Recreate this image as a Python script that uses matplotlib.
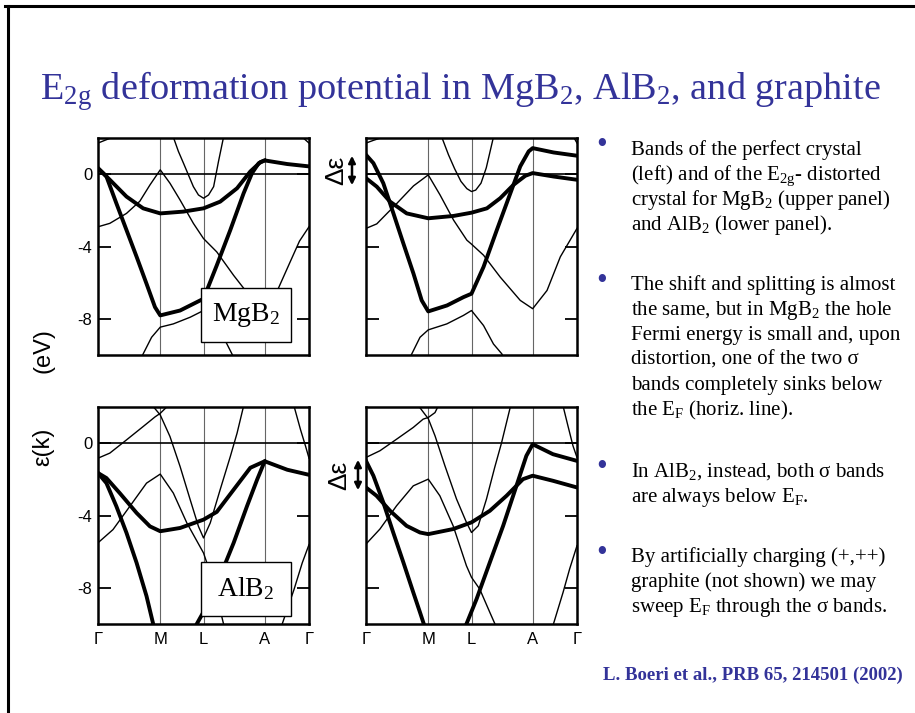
import matplotlib
matplotlib.use('Agg')
import matplotlib.pyplot as plt
from matplotlib.lines import Line2D
from matplotlib.patches import Rectangle, FancyArrowPatch

plt.rcParams['mathtext.fontset'] = 'custom'
plt.rcParams['mathtext.rm'] = 'Liberation Serif'
plt.rcParams['mathtext.it'] = 'Liberation Serif:italic'
plt.rcParams['mathtext.default'] = 'rm'

blue = '#333399'
serif = 'Liberation Serif'
sans = 'Liberation Sans'

# high-symmetry path, fraction of total length
kpts = [0.0, 0.295, 0.5, 0.79, 1.0]
klabels = ['Γ', 'M', 'L', 'A', 'Γ']
eticks = [0, -4, -8]
elabels = ['0', '-4', '-8']

# ---- MgB2, perfect crystal (k, E in eV)
mgb2_sig1 = [(0, 0.33), (0.04, -0.13), (0.087, -1.61), (0.135, -3.09), (0.183, -4.57),
             (0.23, -6.06), (0.27, -7.35), (0.295, -7.81), (0.389, -7.54), (0.5, -6.89),
             (0.563, -5.04), (0.627, -3.09), (0.69, -1.06), (0.73, 0.06), (0.762, 0.61),
             (0.79, 0.76), (0.897, 0.56), (1.0, 0.43)]
mgb2_sig2 = [(0, 0.33), (0.025, 0.05), (0.056, -0.31), (0.135, -1.24), (0.214, -1.89),
             (0.295, -2.17), (0.405, -2.07), (0.5, -1.89), (0.579, -1.52), (0.659, -0.78),
             (0.722, 0.15), (0.77, 0.67), (0.79, 0.76)]
mgb2_pi = [(0, -2.91), (0.056, -2.72), (0.135, -2.17), (0.198, -1.5), (0.246, -0.6),
           (0.295, 0.24), (0.341, -0.5), (0.389, -1.43), (0.452, -2.72), (0.5, -3.56),
           (0.563, -4.3), (0.643, -5.6), (0.73, -6.9), (0.79, -7.39), (0.84, -6.7),
           (0.905, -5.0), (0.955, -3.7), (1.0, -2.91)]
mgb2_lband = [(0.357, 2.05), (0.381, 1.26), (0.405, 0.61), (0.452, -0.69), (0.476, -1.15),
              (0.5, -1.33), (0.524, -1.15), (0.548, -0.69), (0.571, 0.7), (0.595, 2.05)]
mgb2_low = [(0.19, -10.5), (0.214, -9.94), (0.254, -9.02), (0.295, -8.46), (0.357, -8.28),
            (0.437, -7.91), (0.5, -7.54), (0.563, -8.28), (0.611, -9.39), (0.643, -10.13)]
mgb2_top_l = [(0, 1.72), (0.032, 1.87), (0.071, 2.05)]
mgb2_top_r = [(0.968, 2.05), (1.0, 1.72)]

# ---- MgB2, E2g-distorted crystal
mgb2d_sig1 = [(0, 1.07), (0.035, 0.61), (0.082, -0.5), (0.13, -2.17), (0.177, -3.83),
              (0.225, -5.5), (0.264, -6.98), (0.295, -7.59), (0.384, -7.26), (0.462, -6.8),
              (0.5, -6.61), (0.557, -5.13), (0.62, -3.09), (0.684, -1.06), (0.731, 0.43),
              (0.771, 1.26), (0.79, 1.44), (0.889, 1.2), (1.0, 1.02)]
mgb2d_sig2 = [(0, -0.22), (0.051, -0.69), (0.114, -1.52), (0.193, -2.17), (0.295, -2.44),
              (0.415, -2.31), (0.5, -2.13), (0.573, -1.89), (0.636, -1.33), (0.699, -0.59),
              (0.755, -0.09), (0.79, 0.06), (0.889, -0.13), (1.0, -0.31)]
mgb2d_pi = [(0, -3.0), (0.051, -2.75), (0.146, -1.62), (0.225, -0.65), (0.295, -0.04),
            (0.351, -1.15), (0.415, -2.54), (0.478, -3.65), (0.5, -3.87), (0.557, -4.48),
            (0.636, -5.69), (0.731, -6.98), (0.79, -7.44), (0.858, -6.43), (0.921, -4.57),
            (1.0, -3.0)]
mgb2d_lband = [(0.359, 2.05), (0.391, 1.07), (0.42, 0.3), (0.45, -0.4), (0.478, -0.8),
               (0.5, -0.96), (0.52, -0.88), (0.545, -0.5), (0.57, 0.35), (0.604, 2.05)]
mgb2d_low = [(0.19, -10.5), (0.217, -9.94), (0.256, -9.02), (0.295, -8.61), (0.383, -8.28),
             (0.462, -7.81), (0.5, -7.54), (0.557, -8.37), (0.604, -9.39), (0.644, -9.94),
             (0.66, -10.4)]
mgb2d_top_l = [(0, 1.72), (0.035, 1.87), (0.082, 2.05)]
mgb2d_top_r = [(0.984, 2.05), (1.0, 1.72)]

# ---- AlB2, perfect crystal
alb2_sig1 = [(0, -1.65), (0.04, -2.21), (0.087, -3.49), (0.135, -4.96), (0.183, -6.62),
             (0.23, -8.46), (0.262, -10.02), (0.295, -10.9), (0.45, -10.6), (0.468, -10.0),
             (0.516, -9.0), (0.579, -7.35), (0.643, -5.51), (0.706, -3.49), (0.754, -2.02),
             (0.79, -1.0), (0.897, -1.47), (1.0, -1.75)]
alb2_sig2 = [(0, -1.65), (0.04, -1.93), (0.103, -2.76), (0.183, -3.86), (0.246, -4.6),
             (0.295, -4.87), (0.389, -4.69), (0.5, -4.23), (0.563, -3.8), (0.643, -2.57),
             (0.722, -1.36), (0.79, -1.0)]
alb2_pi = [(0, -5.51), (0.071, -4.78), (0.151, -3.49), (0.23, -2.21), (0.295, -1.71),
           (0.357, -2.76), (0.421, -4.41), (0.5, -6.07), (0.548, -7.72), (0.595, -10.0),
           (0.65, -11.5), (0.8, -11.5), (0.873, -10.0), (0.929, -8.09), (0.968, -6.62),
           (1.0, -5.61)]
alb2_up = [(0, -0.83), (0.056, -0.55), (0.135, 0.18), (0.214, 0.92), (0.27, 1.45),
           (0.295, 1.65), (0.33, 2.05)]
alb2_v = [(0.26, 2.05), (0.295, 1.56), (0.341, 0.37), (0.389, -1.29), (0.437, -3.13),
          (0.476, -4.6), (0.5, -5.24), (0.532, -4.41), (0.579, -2.57), (0.627, -0.74),
          (0.659, 0.55), (0.69, 2.05)]
alb2_top_r = [(0.929, 2.05), (0.96, 0.74), (0.984, -0.18), (1.0, -0.83)]

# ---- AlB2, E2g-distorted crystal
alb2d_sig1 = [(0, -0.98), (0.035, -1.8), (0.082, -3.28), (0.129, -4.94), (0.177, -6.59),
              (0.224, -8.25), (0.256, -9.36), (0.287, -10.46), (0.45, -10.6), (0.476, -10.0),
              (0.524, -8.62), (0.587, -6.59), (0.65, -4.57), (0.713, -2.36), (0.76, -0.7),
              (0.79, -0.06), (0.886, -0.61), (1.0, -0.98)]
alb2d_sig2 = [(0, -2.45), (0.05, -2.91), (0.114, -3.74), (0.192, -4.57), (0.256, -4.94),
              (0.295, -5.03), (0.413, -4.75), (0.5, -4.38), (0.587, -3.74), (0.666, -2.91),
              (0.744, -1.99), (0.79, -1.8), (0.886, -2.08), (1.0, -2.45)]
alb2d_pi = [(0, -5.58), (0.066, -4.75), (0.145, -3.46), (0.224, -2.36), (0.295, -1.99),
            (0.35, -2.91), (0.413, -4.57), (0.476, -6.78), (0.5, -7.42), (0.539, -8.07),
            (0.587, -9.36), (0.618, -10.18), (0.7, -11.5), (0.82, -11.5), (0.886, -10.09),
            (0.934, -8.25), (0.965, -6.96), (1.0, -5.67)]
alb2d_up = [(0, -0.79), (0.066, -0.42), (0.145, 0.22), (0.224, 0.87), (0.271, 1.33),
            (0.295, 1.42), (0.327, 1.69), (0.342, 2.05)]
alb2d_v = [(0.25, 2.05), (0.279, 1.6), (0.295, 1.36), (0.327, 0.41), (0.374, -1.25),
           (0.429, -3.09), (0.476, -4.38), (0.5, -4.94), (0.532, -4.57), (0.571, -3.09),
           (0.61, -1.34), (0.642, 0.0), (0.685, 2.05)]
alb2d_top_r = [(0.934, 2.05), (0.957, 0.96), (0.981, -0.15), (1.0, -0.79)]

title = r'E$_{2g}$ deformation potential in MgB$_2$, AlB$_2$, and graphite'
bullets = [
    ['Bands of the perfect crystal',
     r'(left) and of the E$_{2g}$- distorted',
     r'crystal for MgB$_2$ (upper panel)',
     r'and AlB$_2$ (lower panel).'],
    ['The shift and splitting is almost',
     r'the same, but in MgB$_2$ the hole',
     'Fermi energy is small and, upon',
     'distortion, one of the two σ',
     'bands completely sinks below',
     r'the E$_F$ (horiz. line).'],
    [r'In AlB$_2$, instead, both σ bands',
     r'are always below E$_F$.'],
    ['By artificially charging (+,++)',
     'graphite (not shown) we may',
     r'sweep E$_F$ through the σ bands.'],
]
bullet_y = [150, 285, 472, 557]   # first-line centres, px from top
citation = 'L. Boeri et al., PRB 65, 214501 (2002)'

W, H = 915, 713
fig = plt.figure(figsize=(W / 100, H / 100), dpi=100)


def fx(px):
    return px / W


def fy(py):
    return 1 - py / H


def panel(left, top, thick, thin, show_e, show_k, name=None, box_y=0.06):
    ax = fig.add_axes([fx(left), fy(top + 217), 211 / W, 217 / H])
    for kp in kpts[1:-1]:
        ax.axvline(kp, color='#666666', lw=0.8, zorder=1)
    ax.axhline(0, color='black', lw=1.2, zorder=2)
    for band in thin:
        k, e = zip(*band)
        ax.plot(k, e, color='black', lw=1.0, zorder=3)
    for band in thick:
        k, e = zip(*band)
        ax.plot(k, e, color='black', lw=2.8, zorder=4, solid_joinstyle='round')
    ax.set_xlim(0, 1)
    ax.set_ylim(-10, 2)
    ax.set_xticks(kpts)
    if show_k:
        ax.set_xticklabels(klabels, fontsize=12, family=sans)
    else:
        ax.set_xticklabels([])
    ax.tick_params(axis='x', length=0, pad=6)
    ax.set_yticks(eticks)
    ax.tick_params(axis='y', direction='in', length=9, width=1.3,
                   left=True, right=True, pad=4)
    if show_e:
        ax.set_yticklabels(elabels, fontsize=12, family=sans)
    else:
        ax.set_yticklabels([])
    for s in ax.spines.values():
        s.set_linewidth(1.8)
    if name:
        ax.add_patch(Rectangle((0.486, box_y), 0.428, 0.249, transform=ax.transAxes,
                               facecolor='white', edgecolor='black', lw=1.0, zorder=6))
        ax.text(0.7, box_y + 0.125, name, transform=ax.transAxes, ha='center',
                va='center', fontsize=20, family=serif, zorder=7)
    return ax


panel(98, 138, [mgb2_sig1, mgb2_sig2],
      [mgb2_pi, mgb2_lband, mgb2_low, mgb2_top_l, mgb2_top_r], True, False, r'MgB$_2$', 0.06)
panel(366, 138, [mgb2d_sig1, mgb2d_sig2],
      [mgb2d_pi, mgb2d_lband, mgb2d_low, mgb2d_top_l, mgb2d_top_r], False, False)
panel(98, 407, [alb2_sig1, alb2_sig2],
      [alb2_pi, alb2_up, alb2_v, alb2_top_r], True, True, r'AlB$_2$', 0.037)
panel(366, 407, [alb2d_sig1, alb2d_sig2],
      [alb2d_pi, alb2d_up, alb2d_v, alb2d_top_r], False, True)

# energy axis label
fig.text(fx(43), fy(351), '(eV)', rotation=90, ha='center', va='center',
         fontsize=17, family=sans)
fig.text(fx(43), fy(447), 'ε(k)', rotation=90, ha='center', va='center',
         fontsize=17, family=sans)

# splitting arrows
for tx, ax_x, y0, y1 in [(336, 352, 153, 188), (339, 358, 457, 493)]:
    fig.text(fx(tx), fy((y0 + y1) / 2), 'Δε', rotation=90, ha='center', va='center',
             fontsize=19, family=sans)
    fig.add_artist(FancyArrowPatch((fx(ax_x), fy(y1)), (fx(ax_x), fy(y0)),
                                   transform=fig.transFigure, arrowstyle='<|-|>',
                                   mutation_scale=10, lw=1.8, color='black'))

# title
fig.text(fx(460), fy(100), title, ha='center', va='baseline', fontsize=27.5,
         color=blue, family=serif)

# bullets
for y0, lines in zip(bullet_y, bullets):
    fig.text(fx(602), fy(y0 - 4), '•', ha='center', va='center', fontsize=22,
             color=blue, family=serif)
    for i, line in enumerate(lines):
        fig.text(fx(631), fy(y0 + 25 * i + 5), line, ha='left', va='baseline',
                 fontsize=15, family=serif)

fig.text(fx(603), fy(680), citation, ha='left', va='baseline', fontsize=13.5,
         fontweight='bold', color=blue, family=serif)

# slide frame
fig.add_artist(Line2D([fx(8), fx(8)], [0, fy(6)], transform=fig.transFigure,
                      color='black', lw=2.2))
fig.add_artist(Line2D([fx(5), 1], [fy(6), fy(6)], transform=fig.transFigure,
                      color='black', lw=2.2))

fig.savefig('out.png', dpi=100)
